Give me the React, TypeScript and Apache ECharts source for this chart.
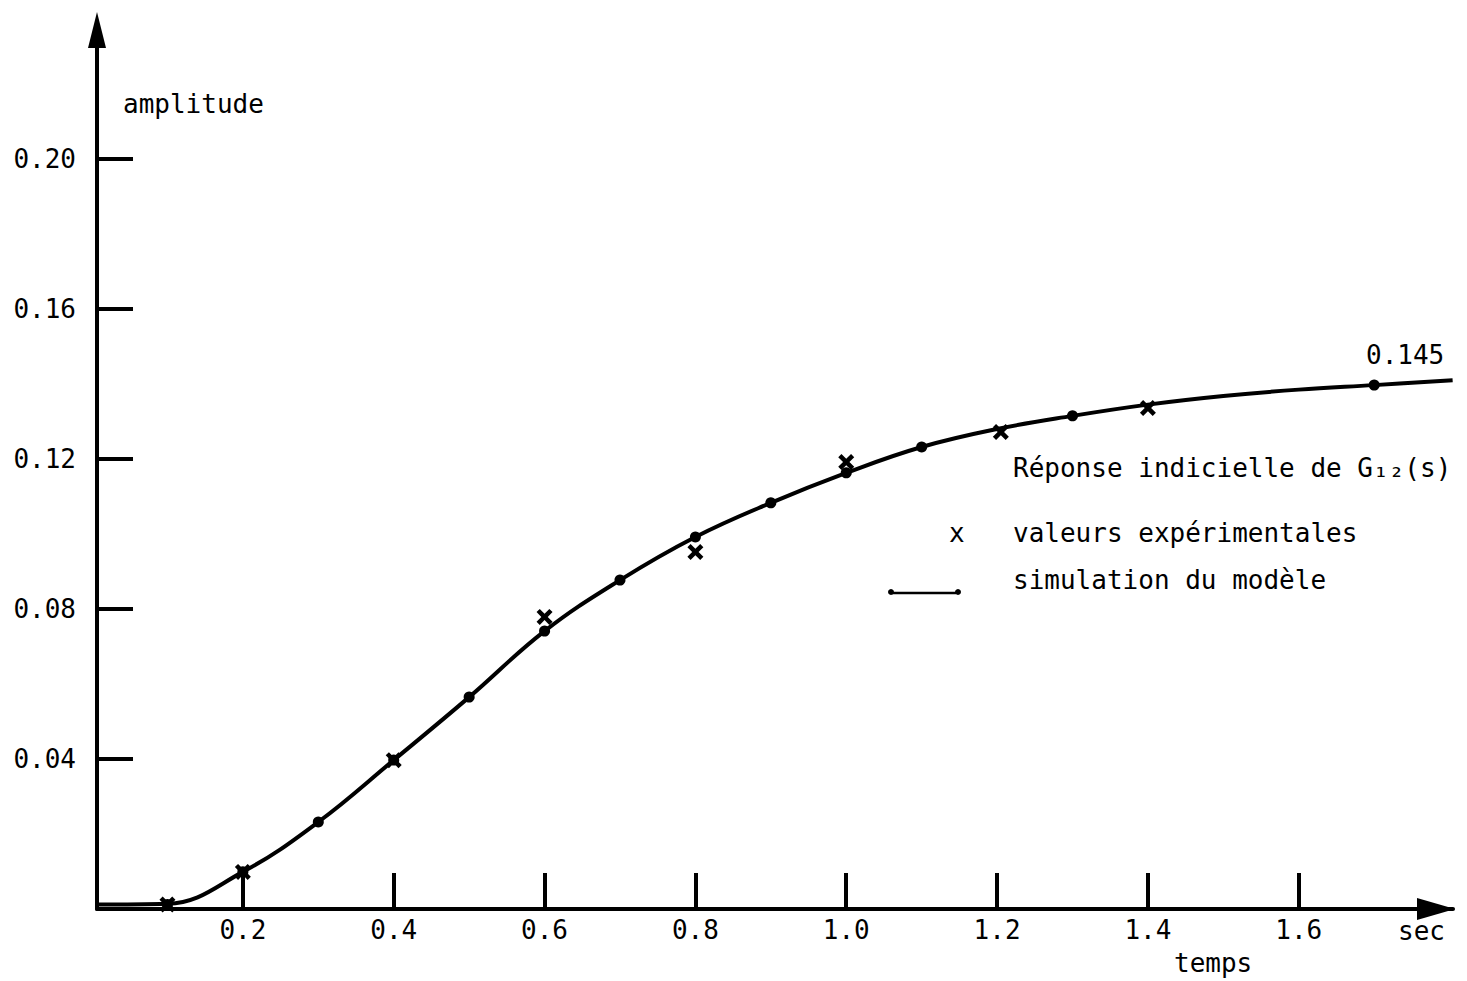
import React, { useEffect, useRef } from "react";
import * as echarts from "echarts";

// Tick labels
const xTicks = [0.2, 0.4, 0.6, 0.8, 1.0, 1.2, 1.4, 1.6];
const yTicks = [0.04, 0.08, 0.12, 0.16, 0.2];

// Model simulation curve (temps, amplitude)
const curveT = [0.0066, 0.1, 0.2, 0.3, 0.4, 0.5, 0.6, 0.7, 0.8, 0.9, 1.0, 1.1, 1.2, 1.3, 1.4, 1.5, 1.6, 1.7, 1.804];
const curveV = [0.0012, 0.0014, 0.0099, 0.0232, 0.0397, 0.0565, 0.0741, 0.0877, 0.0992, 0.1083, 0.1163, 0.1232, 0.128, 0.1315, 0.1345, 0.1368, 0.1385, 0.1397, 0.141];

// Simulation points (dots)
const simT = [0.1, 0.2, 0.3, 0.4, 0.5, 0.6, 0.7, 0.8, 0.9, 1.0, 1.1, 1.3, 1.7];
const simV = [0.0012, 0.0099, 0.0232, 0.0397, 0.0565, 0.0741, 0.0877, 0.0992, 0.1083, 0.1163, 0.1232, 0.1315, 0.1397];

// Experimental values (crosses)
const expT = [0.1, 0.2, 0.4, 0.6, 0.8, 1.0, 1.205, 1.4];
const expV = [0.0012, 0.0099, 0.0397, 0.0779, 0.0952, 0.1192, 0.1272, 0.1336];

const finalValueLabel = "0.145";

const FONT = "DejaVu Sans Mono";
const CROSS = "path://M0,2 L2,0 L5,3 L8,0 L10,2 L7,5 L10,8 L8,10 L5,7 L2,10 L0,8 L3,5 Z";

export default function App() {
  const ref = useRef<HTMLDivElement>(null);
  useEffect(() => {
    if (!ref.current) return;
    const chart = echarts.init(ref.current, undefined, { renderer: "svg" });
    const txt = { fontFamily: FONT, fontSize: 26, fill: "#000" };
    chart.setOption({
      animation: false,
      backgroundColor: "#fff",
      grid: { left: 97, top: 30, right: 14, bottom: 72 },
      xAxis: {
        type: "value",
        min: 0.0066,
        max: 1.8045,
        axisLine: {
          show: true,
          symbol: ["none", "triangle"],
          symbolSize: [22, 38],
          symbolOffset: [0, -17],
          lineStyle: { color: "#000", width: 4 },
        },
        axisTick: {
          show: true,
          inside: true,
          length: 36,
          customValues: xTicks,
          lineStyle: { color: "#000", width: 4 },
        },
        axisLabel: {
          customValues: xTicks,
          formatter: (v: number) => v.toFixed(1),
          fontFamily: FONT,
          fontSize: 26,
          color: "#000",
          margin: 8,
        },
        splitLine: { show: false },
      },
      yAxis: {
        type: "value",
        min: 0,
        max: 0.2344,
        axisLine: {
          show: true,
          symbol: ["none", "triangle"],
          symbolSize: [18, 36],
          lineStyle: { color: "#000", width: 4 },
        },
        axisTick: {
          show: true,
          inside: true,
          length: 36,
          customValues: yTicks,
          lineStyle: { color: "#000", width: 4 },
        },
        axisLabel: {
          customValues: yTicks,
          formatter: (v: number) => v.toFixed(2),
          fontFamily: FONT,
          fontSize: 26,
          color: "#000",
          margin: 21,
        },
        splitLine: { show: false },
      },
      series: [
        {
          name: "simulation du modèle",
          type: "line",
          data: curveT.map((t, i) => [t, curveV[i]]),
          smooth: 0.4,
          showSymbol: false,
          clip: false,
          lineStyle: { color: "#000", width: 4 },
        },
        {
          name: "points simulés",
          type: "scatter",
          data: simT.map((t, i) => [t, simV[i]]),
          symbol: "circle",
          symbolSize: 11,
          itemStyle: { color: "#000", opacity: 1 },
        },
        {
          name: "valeurs expérimentales",
          type: "scatter",
          data: expT.map((t, i) => [t, expV[i]]),
          symbol: CROSS,
          symbolSize: 16,
          itemStyle: { color: "#000", opacity: 1 },
        },
      ],
      graphic: [
        { type: "text", left: 123, top: 91, style: { ...txt, text: "amplitude" } },
        { type: "text", left: 1366, top: 342, style: { ...txt, text: finalValueLabel } },
        { type: "text", left: 1013, top: 455, style: { ...txt, text: "Réponse indicielle de G₁₂(s)" } },
        { type: "text", left: 949, top: 520, style: { ...txt, text: "x" } },
        { type: "text", left: 1013, top: 520, style: { ...txt, text: "valeurs expérimentales" } },
        { type: "text", left: 1013, top: 567, style: { ...txt, text: "simulation du modèle" } },
        { type: "line", shape: { x1: 892, y1: 593, x2: 956, y2: 593 }, style: { stroke: "#000", lineWidth: 2.5 } },
        { type: "circle", shape: { cx: 891, cy: 592, r: 3 }, style: { fill: "#000" } },
        { type: "circle", shape: { cx: 958, cy: 592, r: 3 }, style: { fill: "#000" } },
        { type: "text", left: 1398, top: 918, style: { ...txt, text: "sec" } },
        { type: "text", left: 1174, top: 950, style: { ...txt, text: "temps" } },
      ],
    });
    return () => chart.dispose();
  }, []);
  return (
    <div
      ref={ref}
      style={{ position: "fixed", left: 0, top: 0, width: 1467, height: 981 }}
    />
  );
}
